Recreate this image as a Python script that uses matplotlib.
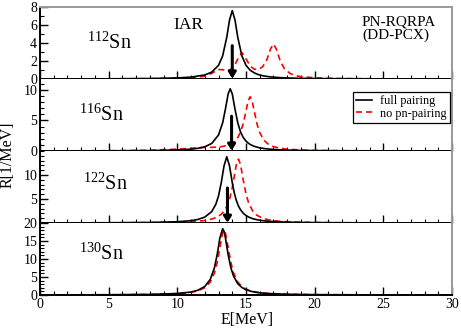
import numpy as np
import matplotlib
matplotlib.use("Agg")
import matplotlib.pyplot as plt
from matplotlib.ticker import MultipleLocator

# --------------------------------------- Datos ---------------------------------------
isotopos = ["112", "116", "122", "130"]

e_112 = [0, 5, 8, 10, 11, 12, 12.5, 13.0, 13.3, 13.6, 13.8, 14.0, 14.2, 14.4, 14.7, 15.0, 15.3,
         15.6, 15.9, 16.2, 16.5, 16.8, 17.0, 17.2, 17.5, 17.8, 18.2, 18.6, 19, 20, 22, 25, 30]
full_112 = [0.01, 0.02, 0.05, 0.12, 0.21, 0.45, 0.76, 1.52, 2.57, 4.64, 6.55, 7.6, 6.55, 4.64, 2.57,
            1.52, 0.98, 0.68, 0.49, 0.37, 0.29, 0.23, 0.21, 0.18, 0.15, 0.13, 0.11, 0.09, 0.075,
            0.05, 0.03, 0.016, 0.007]
nopn_112 = [0.01, 0.02, 0.04, 0.07, 0.13, 0.31, 0.63, 1.05, 1.03, 0.95, 0.98, 1.19, 1.60, 2.22, 2.94,
            2.25, 1.45, 1.09, 1.07, 1.34, 2.08, 3.39, 3.88, 3.35, 1.97, 1.13, 0.62, 0.38, 0.26,
            0.13, 0.05, 0.02, 0.01]

e_116 = [0, 5, 8, 10, 11, 11.5, 12, 12.5, 13.0, 13.3, 13.5, 13.7, 13.85, 14.0, 14.2, 14.4, 14.6, 14.8,
         15.0, 15.15, 15.3, 15.45, 15.6, 15.8, 16.0, 16.3, 16.6, 17.0, 17.5, 18, 19, 20, 22, 25, 30]
full_116 = [0.01, 0.03, 0.07, 0.17, 0.30, 0.44, 0.69, 1.23, 2.62, 4.62, 6.85, 9.36, 10.2, 9.36, 6.85,
            4.62, 3.14, 2.21, 1.62, 1.32, 1.08, 0.91, 0.77, 0.63, 0.52, 0.41, 0.33, 0.25, 0.19,
            0.15, 0.095, 0.067, 0.038, 0.02, 0.01]
nopn_116 = [0.01, 0.05, 0.12, 0.30, 0.45, 0.52, 0.58, 0.60, 0.65, 0.75, 0.85, 1.0, 1.15, 1.3, 1.65,
            2.2, 3.1, 4.5, 6.56, 8.17, 8.9, 8.17, 6.54, 4.45, 3.01, 1.78, 1.15, 0.71, 0.44,
            0.30, 0.16, 0.10, 0.05, 0.024, 0.01]

e_122 = [0, 5, 8, 10, 11, 11.5, 12, 12.5, 12.8, 13.0, 13.2, 13.4, 13.6, 13.8, 14.0, 14.15, 14.3, 14.45,
         14.6, 14.8, 15.0, 15.2, 15.5, 15.8, 16.2, 16.6, 17, 17.5, 18, 19, 20, 22, 25, 30]
full_122 = [0.02, 0.05, 0.11, 0.26, 0.49, 0.74, 1.23, 2.36, 3.88, 5.66, 8.41, 11.9, 13.8, 11.9, 8.41,
            6.24, 4.66, 3.55, 2.76, 2.04, 1.56, 1.23, 0.89, 0.68, 0.49, 0.37, 0.29, 0.22, 0.18,
            0.12, 0.084, 0.049, 0.027, 0.013]
nopn_122 = [0.02, 0.04, 0.08, 0.17, 0.27, 0.37, 0.53, 0.82, 1.12, 1.41, 1.83, 2.46, 3.42, 4.94, 7.35,
            9.78, 12.2, 13.3, 12.2, 8.93, 6.02, 4.09, 2.46, 1.60, 1.00, 0.68, 0.49, 0.35, 0.26,
            0.16, 0.11, 0.058, 0.03, 0.014]

e_130 = [0, 5, 8, 10, 11, 11.5, 12, 12.4, 12.7, 12.9, 13.1, 13.3, 13.4, 13.5, 13.7, 13.9, 14.1, 14.4,
         14.7, 15.0, 15.4, 15.8, 16.3, 17, 18, 19, 20, 22, 25, 30]
full_130 = [0.03, 0.07, 0.16, 0.41, 0.83, 1.32, 2.37, 4.34, 7.54, 11.2, 15.9, 18.4, 17.7, 15.9, 11.2,
            7.54, 5.17, 3.15, 2.08, 1.46, 0.99, 0.71, 0.50, 0.33, 0.21, 0.14, 0.10, 0.06, 0.034, 0.016]
nopn_130 = [0.03, 0.06, 0.15, 0.38, 0.75, 1.17, 2.04, 3.6, 6.08, 9.0, 13.2, 17.3, 18.0, 17.3, 13.2,
            9.0, 6.08, 3.6, 2.32, 1.60, 1.06, 0.75, 0.52, 0.34, 0.21, 0.14, 0.10, 0.06, 0.033, 0.016]

# posicion y altura de las flechas (IAR)
e_flecha = [14.0, 13.95, 13.65, None]
h_flecha = [3.7, 5.7, 7.3, None]

y_max = [8, 11.8, 15, 20]
y_etiquetas = [[0, 2, 4, 6, 8], [0, 5, 10], [5, 10], [0, 5, 10, 15, 20]]
x_etiquetas = [0, 5, 10, 15, 20, 25, 30]

energias = [e_112, e_116, e_122, e_130]
completo = [full_112, full_116, full_122, full_130]
sin_pn = [nopn_112, nopn_116, nopn_122, nopn_130]

# --------------------------------------- Estilo ---------------------------------------
plt.rcParams['font.family'] = 'serif'
plt.rcParams['font.serif'] = ['Liberation Serif', 'DejaVu Serif']
plt.rcParams['mathtext.fontset'] = 'custom'
plt.rcParams['mathtext.rm'] = 'Liberation Serif'

fig = plt.figure(figsize=(4.61, 3.29), dpi=100)
gs = fig.add_gridspec(4, 1, left=40 / 461, right=452 / 461, top=1 - 7 / 329, bottom=1 - 295 / 329,
                      hspace=0)

pos_label = [(0.114, 0.507), (0.095, 0.507), (0.104, 0.54), (0.095, 0.575)]

axes = []
for i in range(4):
    ax = fig.add_subplot(gs[i])
    axes.append(ax)
    ax.plot(energias[i], completo[i], color='black', lw=1.2, label='full pairing', zorder=3)
    ax.plot(energias[i], sin_pn[i], color='red', lw=1.2, linestyle=(0, (3.6, 2.4)),
            label='no pn-pairing', zorder=2)

    if e_flecha[i] is not None:
        ax.annotate('', xy=(e_flecha[i], 0.05), xytext=(e_flecha[i], h_flecha[i]),
                    arrowprops=dict(arrowstyle='-|>,head_width=0.22,head_length=0.35',
                                    color='black', lw=2.2, shrinkA=0, shrinkB=0), zorder=4)

    ax.set_xlim(0, 30)
    ax.set_ylim(0, y_max[i])
    ax.xaxis.set_major_locator(MultipleLocator(5))
    ax.xaxis.set_minor_locator(MultipleLocator(1))
    ax.yaxis.set_minor_locator(MultipleLocator(1))
    if i == 2:
        ax.set_yticks([0, 5, 10])
        ax.set_yticklabels(['', '5', '10'])
    else:
        ax.set_yticks(y_etiquetas[i])
    ax.tick_params(which='both', direction='in', top=False, right=False, labelsize=10, pad=2)
    ax.tick_params(which='major', length=6, width=1)
    ax.tick_params(which='minor', length=3, width=0.8)

    for s in ['left', 'bottom']:
        ax.spines[s].set_linewidth(1.4)
        ax.spines[s].set_color('black')
    ax.spines['right'].set_color('#999999')
    ax.spines['right'].set_linewidth(1.4)
    if i == 0:
        ax.spines['top'].set_color('#999999')
        ax.spines['top'].set_linewidth(1.4)
    else:
        ax.spines['top'].set_visible(False)

    if i < 3:
        ax.tick_params(axis='x', labelbottom=False)
    else:
        ax.set_xticks(x_etiquetas)

    ax.text(pos_label[i][0], pos_label[i][1], r'$^{%s}$Sn' % isotopos[i], transform=ax.transAxes,
            fontsize=14.5, ha='left', va='center')

# --------------------------------------- Textos ---------------------------------------
axes[0].text(0.323, 0.746, 'IAR', transform=axes[0].transAxes, fontsize=12.5, ha='left', va='center')
axes[0].text(0.781, 0.793, 'PN-RQRPA', transform=axes[0].transAxes, fontsize=11, ha='left', va='center')
axes[0].text(0.783, 0.606, '(DD-PCX)', transform=axes[0].transAxes, fontsize=11, ha='left', va='center')

leg = axes[1].legend(loc='upper right', bbox_to_anchor=(0.995, 0.82), borderaxespad=0, fontsize=8.8,
                     handlelength=1.35, handletextpad=0.65, labelspacing=0.05, borderpad=0.25,
                     fancybox=False, framealpha=1)
leg.get_frame().set_edgecolor('black')
leg.get_frame().set_linewidth(0.9)

fig.text(8 / 461, 1 - 155 / 329, 'R[1/MeV]', rotation=90, fontsize=11.5, ha='center', va='center')
fig.text(247 / 461, 1 - 320 / 329, 'E[MeV]', fontsize=11.5, ha='center', va='center')

fig.savefig('out.png', dpi=100)
